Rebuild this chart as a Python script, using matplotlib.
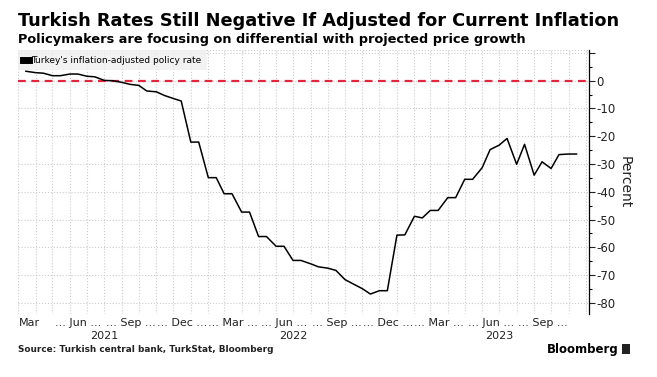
import numpy as np
import pandas as pd
import matplotlib
matplotlib.use("Agg")
import matplotlib.pyplot as plt
import matplotlib.dates as mdates
from matplotlib.ticker import MultipleLocator
from matplotlib.patches import Rectangle

# half-monthly readings, mid-Mar 2021 to mid-Nov 2023
dates = pd.date_range("2021-03-15", periods=65, freq="SMS")
real_rate = [3.4, 2.9, 2.7, 1.8, 1.8, 2.4, 2.4, 1.6, 1.4, 0.1,
             0.0, -0.6, -1.3, -1.7, -3.7, -4.0, -5.3, -6.4, -7.3, -22.1,
             -22.1, -34.9, -34.9, -40.7, -40.7, -47.3, -47.3, -56.1, -56.1, -59.6,
             -59.6, -64.7, -64.7, -65.9, -67.0, -67.5, -68.3, -71.6, -73.1, -74.9,
             -76.8, -75.6, -75.6, -55.6, -55.5, -48.8, -49.4, -46.7, -46.7, -42.1,
             -42.1, -35.5, -35.5, -31.3, -24.8, -23.2, -20.8, -30.1, -22.9, -34.0,
             -29.2, -31.6, -26.6, -26.4, -26.4]

tick_dates = ["2021-03-22", "2021-06-16", "2021-09-16", "2021-12-16",
              "2022-03-16", "2022-06-16", "2022-09-16", "2022-12-16",
              "2023-03-16", "2023-06-16", "2023-09-16"]
tick_labels = ["Mar", "... Jun ...", "... Sep ...", "... Dec ...",
               "... Mar ...", "... Jun ...", "... Sep ...", "... Dec ...",
               "... Mar ...", "... Jun ...", "... Sep ..."]
years = ["2021", "2022", "2023"]
year_dates = ["2021-08-01", "2022-07-01", "2023-07-01"]

fig = plt.figure(figsize=(6.57, 3.77), dpi=100)
ax = fig.add_axes([0.0274, 0.167, 0.869, 0.700])

ax.plot(dates, real_rate, color="black", lw=1.1, zorder=3)
ax.axhline(0, color="#e3263f", lw=1.6, ls=(0, (3.5, 2.5)), zorder=2)

ax.set_xlim(pd.Timestamp("2021-03-01"), pd.Timestamp("2023-12-07"))
ax.set_ylim(-84, 11)

# month grid
ax.xaxis.set_minor_locator(mdates.MonthLocator())
ax.grid(which="minor", axis="x", color="#cccccc", ls=":", lw=0.8)
ax.set_xticks(pd.to_datetime(tick_dates))
ax.set_xticklabels(tick_labels, fontsize=8, color="#222222")
ax.tick_params(axis="x", which="both", length=0, pad=3)

ax.yaxis.tick_right()
ax.yaxis.set_label_position("right")
ax.set_yticks(np.arange(-80, 11, 10))
ax.set_yticklabels(["-80", "-70", "-60", "-50", "-40", "-30", "-20", "-10", "0", ""])
ax.yaxis.set_minor_locator(MultipleLocator(5))
ax.tick_params(axis="y", which="major", length=4, width=0.8, labelsize=8.5, pad=1,
               colors="#222222")
ax.tick_params(axis="y", which="minor", length=2, width=0.8)
ax.grid(which="major", axis="y", color="#cccccc", ls=":", lw=0.8)
ax.set_ylabel("Percent", rotation=270, labelpad=12, fontsize=10, color="#222222")

for s in ["left", "top", "bottom"]:
    ax.spines[s].set_visible(False)
ax.spines["right"].set_color("black")
ax.spines["right"].set_linewidth(0.9)
ax.axhline(11, color="#cccccc", ls=":", lw=0.8)

for yr, d in zip(years, year_dates):
    ax.text(mdates.date2num(pd.Timestamp(d)), -0.065, yr, transform=ax.get_xaxis_transform(),
            ha="center", va="top", fontsize=8, color="#222222")

leg = ax.legend(["Turkey's inflation-adjusted policy rate"], loc="upper left",
                bbox_to_anchor=(0.0, 1.0), fontsize=6.5, frameon=True, fancybox=False,
                handlelength=0.6, handleheight=0.6, handletextpad=0.3,
                borderpad=0.6, borderaxespad=0.0)
leg.get_frame().set_facecolor("#efefef")
leg.get_frame().set_edgecolor("none")
for h in leg.legend_handles:
    h.set_linewidth(5)

fig.text(0.0274, 0.945, "Turkish Rates Still Negative If Adjusted for Current Inflation",
         fontsize=12.8, fontweight="bold", va="center", ha="left")
fig.text(0.0274, 0.895, "Policymakers are focusing on differential with projected price growth",
         fontsize=9.3, fontweight="bold", va="center", ha="left")
fig.text(0.0274, 0.074, "Source: Turkish central bank, TurkStat, Bloomberg",
         fontsize=6.4, fontweight="bold", va="center", ha="left", color="#222222")
fig.text(0.942, 0.074, "Bloomberg", fontsize=8.5, fontweight="bold", va="center", ha="right")
fig.patches.append(Rectangle((0.946, 0.062), 0.013, 0.026, transform=fig.transFigure,
                             facecolor="#222222", edgecolor="none"))

fig.savefig("out.png", dpi=100)
